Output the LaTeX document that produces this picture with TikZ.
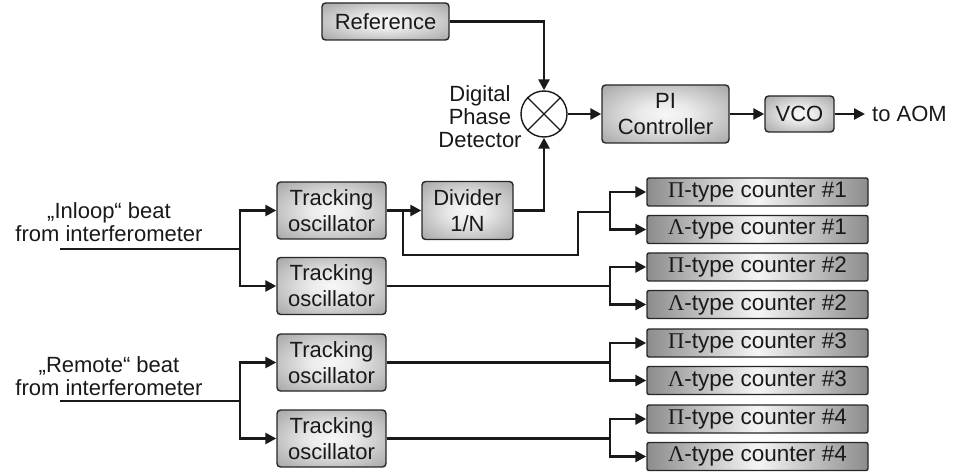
\documentclass[tikz,border=0pt]{standalone}
\usepackage{fontspec}
\setmainfont{Liberation Sans}
\newfontfamily\grk{Liberation Serif}
\usetikzlibrary{arrows.meta,shapes.geometric}
\pgfdeclareradialshading{boxshade}{\pgfpoint{0bp}{0bp}}{color(0bp)=(black!3); color(10bp)=(black!8); color(45bp)=(black!45); color(72bp)=(black!55)}
\begin{document}
\begin{tikzpicture}[x=1pt,y=-1pt]
\tikzset{
  blkbase/.style={draw=black!85, line width=1.4pt, rounded corners=3.5pt,
    inner sep=0pt, align=center, text=black!90, font=\fontsize{22}{26}\selectfont},
  blk/.style={blkbase, shading=boxshade},
  lbl/.style={inner sep=0pt, align=center, text=black!90, font=\fontsize{22}{23}\selectfont},
  wire/.style={line width=2.6pt, black!90},
  arr/.style={wire, -{Triangle[length=11pt,width=11pt]}},
  tosc/.style={blk, minimum width=109pt, minimum height=57pt},
  cnt/.style={blkbase, left color=black!45, right color=black!45, middle color=black!4,
    minimum width=221pt, minimum height=28pt, rounded corners=2pt,
    font=\fontsize{22.5}{26}\selectfont},
}
\useasboundingbox (0,0) rectangle (959,473);

% top chain
\node[blk, minimum width=127pt, minimum height=37pt] (ref) at (385.5,21.5) {Reference};
\node[draw=black!90, line width=1.4pt, circle, minimum size=46pt, inner sep=0pt] (mix) at (544,114) {};
\draw[line width=1.4pt, black!90] (mix.north west) -- (mix.south east) (mix.north east) -- (mix.south west);
\node[lbl] (dpd) at (480,117) {Digital\\Phase\\Detector};
\node[blk, minimum width=127pt, minimum height=58pt] (pi) at (665.5,114) {PI\\Controller};
\node[blk, minimum width=69pt, minimum height=36pt] (vco) at (799.5,114) {VCO};
\node[lbl, anchor=west] (aom) at (872,114) {to AOM};
\coordinate (aomtip) at (865,114);

\draw[arr] (ref.east) -| (mix.north);
\draw[arr] (mix.east) -- (pi.west);
\draw[arr] (pi.east) -- (vco.west);
\draw[arr] (vco.east) -- (aomtip);

% tracking oscillators
\node[tosc] (to1) at (331.5,210.5) {Tracking\\oscillator};
\node[tosc] (to2) at (331.5,286) {Tracking\\oscillator};
\node[tosc] (to3) at (331.5,362.5) {Tracking\\oscillator};
\node[tosc] (to4) at (331.5,438.5) {Tracking\\oscillator};
\node[blk, minimum width=91pt, minimum height=58pt] (div) at (467.5,210.5) {Divider\\1/N};

% counters
\node[cnt] (p1) at (757.5,192) {{\grk Π}-type counter \#1};
\node[cnt] (l1) at (757.5,229.5) {{\grk Λ}-type counter \#1};
\node[cnt] (p2) at (757.5,267) {{\grk Π}-type counter \#2};
\node[cnt] (l2) at (757.5,304.5) {{\grk Λ}-type counter \#2};
\node[cnt] (p3) at (757.5,343) {{\grk Π}-type counter \#3};
\node[cnt] (l3) at (757.5,380.5) {{\grk Λ}-type counter \#3};
\node[cnt] (p4) at (757.5,419) {{\grk Π}-type counter \#4};
\node[cnt] (l4) at (757.5,456.5) {{\grk Λ}-type counter \#4};

% inputs
\node[lbl] (inl) at (109,222) {„Inloop“ beat\\from interferometer};
\node[lbl] (rem) at (109,376) {„Remote“ beat\\from interferometer};
\coordinate (in1) at (60,249);
\coordinate (sa) at (240,249);
\coordinate (in2) at (60,401);
\coordinate (sb) at (240,401);
\draw[wire] (in1) -- (sa);
\draw[arr] (sa) |- (to1.west);
\draw[arr] (sa) |- (to2.west);
\draw[wire] (in2) -- (sb);
\draw[arr] (sb) |- (to3.west);
\draw[arr] (sb) |- (to4.west);

% divider path
\draw[arr] (to1.east) -- (div.west);
\draw[arr] (div.east) -| (mix.south);

% branch to counters #1
\coordinate (b1) at (403,210.5);
\coordinate (k1) at (578,255);
\coordinate (s1) at (610,212);
\draw[wire] (b1) |- (k1) |- (s1);
\draw[arr] (s1) |- (p1.west);
\draw[arr] (s1) |- (l1.west);

\coordinate (s2) at (610,286);
\draw[wire] (to2.east) -- (s2);
\draw[arr] (s2) |- (p2.west);
\draw[arr] (s2) |- (l2.west);

\coordinate (s3) at (610,362.5);
\draw[wire] (to3.east) -- (s3);
\draw[arr] (s3) |- (p3.west);
\draw[arr] (s3) |- (l3.west);

\coordinate (s4) at (610,438.5);
\draw[wire] (to4.east) -- (s4);
\draw[arr] (s4) |- (p4.west);
\draw[arr] (s4) |- (l4.west);
\end{tikzpicture}
\end{document}
